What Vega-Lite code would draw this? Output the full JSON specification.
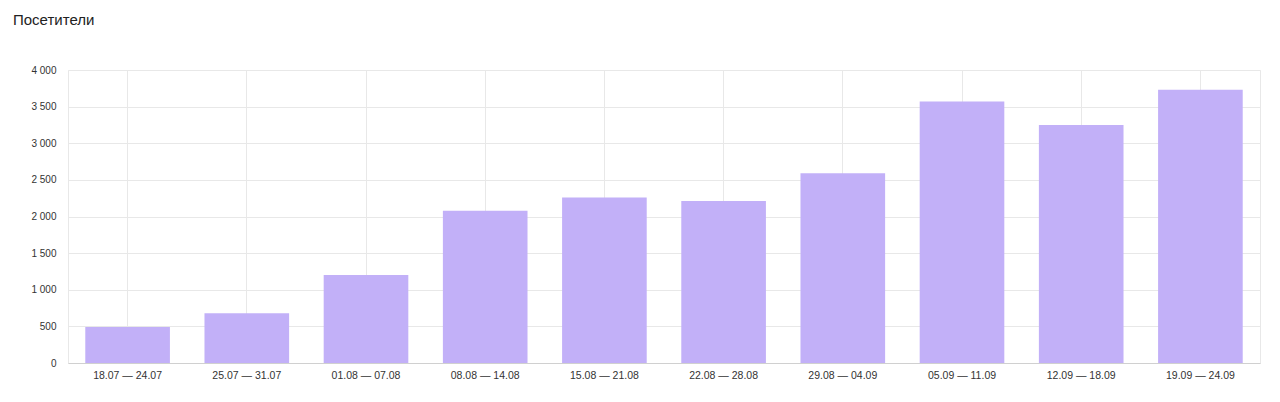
{
  "$schema": "https://vega.github.io/schema/vega-lite/v6.json",
  "width": 1192,
  "height": 293,
  "autosize": {"type": "none"},
  "padding": {"left": 68, "top": 70, "right": 20, "bottom": 39},
  "background": "white",
  "title": {
    "text": "Посетители",
    "anchor": "start",
    "frame": "group",
    "dx": -55,
    "offset": 37,
    "font": "Liberation Sans",
    "fontSize": 15,
    "fontWeight": "normal",
    "color": "#222222"
  },
  "config": {
    "view": {"stroke": "#e8e8e8"},
    "font": "Liberation Sans"
  },
  "data": {
    "values": [
      {"week": "18.07 — 24.07", "visitors": 490},
      {"week": "25.07 — 31.07", "visitors": 680},
      {"week": "01.08 — 07.08", "visitors": 1200},
      {"week": "08.08 — 14.08", "visitors": 2080},
      {"week": "15.08 — 21.08", "visitors": 2260},
      {"week": "22.08 — 28.08", "visitors": 2210},
      {"week": "29.08 — 04.09", "visitors": 2590},
      {"week": "05.09 — 11.09", "visitors": 3570},
      {"week": "12.09 — 18.09", "visitors": 3250},
      {"week": "19.09 — 24.09", "visitors": 3730}
    ]
  },
  "mark": {"type": "bar", "color": "#c2b0f8"},
  "encoding": {
    "x": {
      "field": "week",
      "type": "nominal",
      "sort": null,
      "scale": {"paddingInner": 0.29, "paddingOuter": 0.145},
      "axis": {
        "title": null,
        "labelAngle": 0,
        "labelFontSize": 10.5,
        "labelColor": "#333333",
        "labelPadding": 7,
        "ticks": false,
        "domainColor": "#d0d0d0",
        "grid": true,
        "gridColor": "#e8e8e8"
      }
    },
    "y": {
      "field": "visitors",
      "type": "quantitative",
      "scale": {"domain": [0, 4000]},
      "axis": {
        "title": null,
        "values": [0, 500, 1000, 1500, 2000, 2500, 3000, 3500, 4000],
        "labelExpr": "replace(format(datum.value, ','), ',', ' ')",
        "labelFontSize": 10,
        "labelColor": "#333333",
        "labelPadding": 12,
        "ticks": false,
        "domain": false,
        "gridColor": "#e8e8e8"
      }
    }
  }
}
